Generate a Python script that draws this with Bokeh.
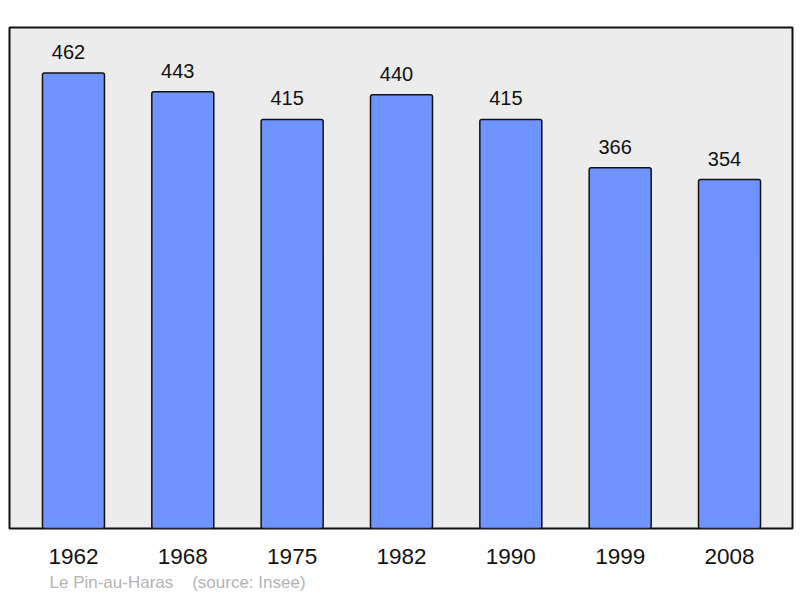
from bokeh.plotting import figure
from bokeh.models import ColumnDataSource, FixedTicker, Title
from bokeh.core.properties import value
from bokeh.embed import file_html
from bokeh.resources import INLINE

years = ["1962", "1968", "1975", "1982", "1990", "1999", "2008"]
population = [462, 443, 415, 440, 415, 366, 354]
footer_place = "Le Pin-au-Haras"
footer_source = "(source: Insee)"

xs = list(range(len(years)))
src = ColumnDataSource(dict(x=xs, top=population, lab=[str(v) for v in population]))

p = figure(width=796, height=596, output_backend="svg", toolbar_location=None,
           x_range=(-0.585, len(years) - 1 + 0.576), y_range=(0, max(population) * 1.1),
           min_border_left=9, min_border_right=4, min_border_top=27, min_border_bottom=68,
           y_axis_location=None)
p.background_fill_color = "#ececec"
p.border_fill_color = "white"
p.outline_line_color = "#111111"
p.outline_line_width = 2
p.grid.visible = False

p.vbar(x="x", top="top", bottom=0, width=0.567, source=src,
       fill_color="#7094ff", line_color="#111111", line_width=1.5, border_radius=2)

p.text(x="x", y="top", text="lab", source=src, x_offset=-5, y_offset=-21,
       text_align="center", text_baseline="alphabetic",
       text_font=value("Liberation Sans"), text_font_size="20px", text_color="#111111")

ax = p.xaxis[0]
ax.ticker = FixedTicker(ticks=xs)
ax.major_label_overrides = {i: y for i, y in zip(xs, years)}
ax.major_label_text_font = "Liberation Sans"
ax.major_label_text_font_size = "22.5px"
ax.major_label_text_color = "#111111"
ax.major_label_standoff = 20
ax.major_tick_out = 0
ax.major_tick_in = 0
ax.minor_tick_out = 0
ax.minor_tick_in = 0
ax.axis_line_color = None

footer = Title(text=footer_place + "\u00a0" * 4 + footer_source, align="left", offset=40,
               text_font="Liberation Sans", text_font_size="17px", text_font_style="normal",
               text_color="#b4b4b4", standoff=9)
p.add_layout(footer, "below")

open("out.html", "w").write(file_html(p, INLINE))
